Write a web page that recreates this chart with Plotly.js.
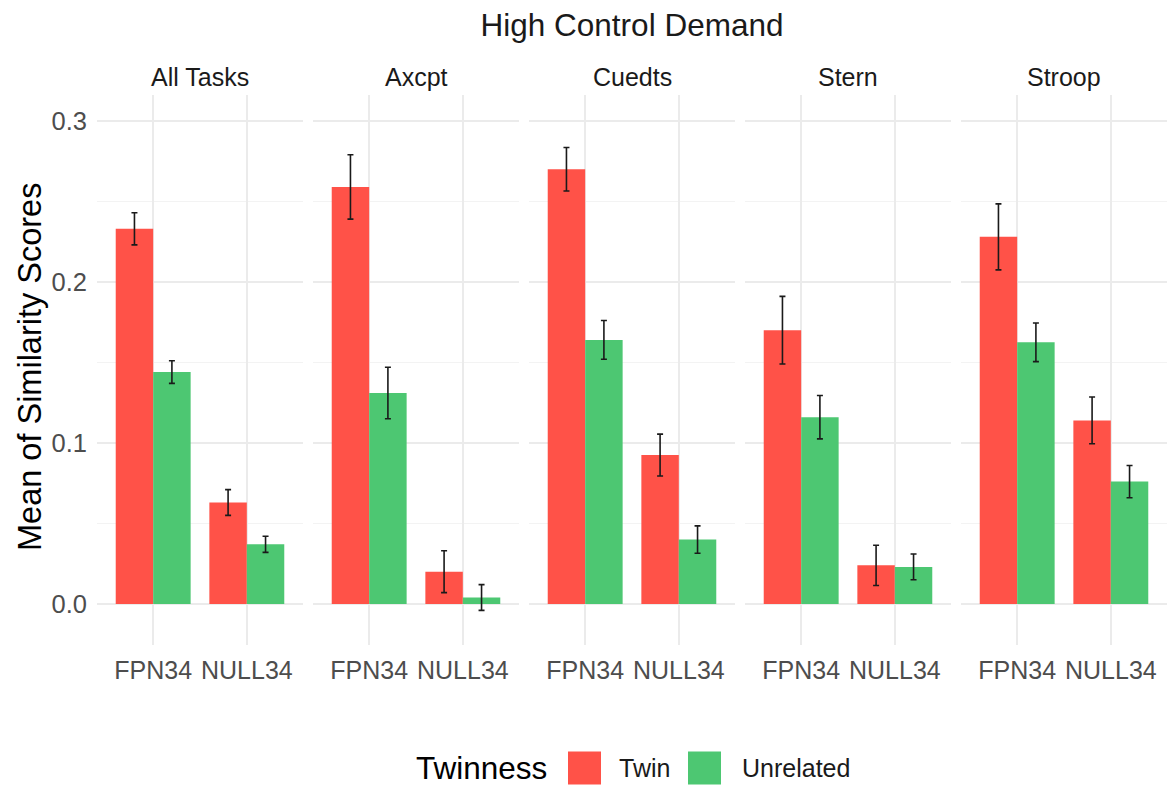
<!DOCTYPE html>
<html>
<head>
<meta charset="utf-8">
<script src="https://cdn.plot.ly/plotly-3.0.1.min.js"></script>
<style>
  html, body { margin: 0; padding: 0; background: #ffffff; }
  #chart { width: 1172px; height: 787px; }
</style>
</head>
<body>
<div id="chart"></div>
<script>
// Facets (tasks) and the networks compared within each facet
const tasks = ['All Tasks', 'Axcpt', 'Cuedts', 'Stern', 'Stroop'];
const networks = ['FPN34', 'NULL34'];

// Mean similarity scores, one entry per task
const twinFPN     = [0.233, 0.259, 0.270, 0.170, 0.228];
const twinNULL    = [0.063, 0.020, 0.0925, 0.024, 0.114];
const unrelFPN    = [0.144, 0.131, 0.164, 0.116, 0.1625];
const unrelNULL   = [0.037, 0.004, 0.040, 0.023, 0.076];

// Standard errors, one entry per task
const twinFPNse   = [0.010, 0.020, 0.0135, 0.021, 0.0205];
const twinNULLse  = [0.008, 0.013, 0.013, 0.0125, 0.0145];
const unrelFPNse  = [0.007, 0.016, 0.012, 0.0135, 0.012];
const unrelNULLse = [0.005, 0.008, 0.0085, 0.008, 0.010];

const groups = ['Twin', 'Unrelated'];
const colors = { Twin: '#FF5248', Unrelated: '#4DC772' };

const FONT = 'Liberation Sans, Arial, Helvetica, sans-serif';
const W = 1172, H = 787;
const mL = 97, mR = 5, mT = 95, mB = 142;
const plotW = W - mL - mR;          // 1070
const plotH = H - mT - mB;          // 550
const panelW = 206, panelGap = 10;

const traces = [];
const layout = {
  width: W, height: H,
  margin: { l: mL, r: mR, t: mT, b: mB, pad: 0 },
  paper_bgcolor: '#ffffff',
  plot_bgcolor: '#ffffff',
  showlegend: false,
  barmode: 'group',
  bargap: 0.2,
  bargroupgap: 0,
  font: { family: FONT, color: '#1a1a1a' },
  title: {
    text: 'High Control Demand',
    x: 0.5, xref: 'paper', xanchor: 'center',
    y: 1 - 25 / H, yref: 'container', yanchor: 'middle',
    font: { family: FONT, size: 31.5, color: '#1a1a1a' }
  },
  annotations: [],
  shapes: []
};

// y axis shared by all facets
layout.yaxis = {
  domain: [0, 1],
  range: [-0.0255, 0.3161],
  tickvals: [0, 0.1, 0.2, 0.3],
  ticktext: ['0.0', '0.1', '0.2', '0.3'],
  showgrid: true, gridcolor: '#EBEBEB', gridwidth: 1.6,
  minor: { tickvals: [0.05, 0.15, 0.25], showgrid: true, gridcolor: '#F3F3F3', gridwidth: 1.2 },
  zeroline: false, showline: false, ticks: '',
  ticklabelstandoff: 9,
  tickfont: { family: FONT, size: 25.5, color: '#4D4D4D' },
  fixedrange: true
};

tasks.forEach((task, i) => {
  const ax = i === 0 ? '' : String(i + 1);
  const x0 = (i * (panelW + panelGap)) / plotW;
  const x1 = (i * (panelW + panelGap) + panelW) / plotW;

  layout['xaxis' + ax] = {
    domain: [x0, x1],
    anchor: 'y',
    type: 'category',
    categoryorder: 'array', categoryarray: networks,
    range: [-0.6, 1.6],
    showgrid: true, gridcolor: '#EBEBEB', gridwidth: 1.6,
    zeroline: false, showline: false, ticks: '',
    ticklabelstandoff: 8,
    tickfont: { family: FONT, size: 25, color: '#4D4D4D' },
    fixedrange: true
  };

  const series = {
    Twin: { y: [twinFPN[i], twinNULL[i]], e: [twinFPNse[i], twinNULLse[i]] },
    Unrelated: { y: [unrelFPN[i], unrelNULL[i]], e: [unrelFPNse[i], unrelNULLse[i]] }
  };

  groups.forEach(g => {
    traces.push({
      type: 'bar',
      name: g,
      x: networks,
      y: series[g].y,
      xaxis: 'x' + ax,
      yaxis: 'y',
      offsetgroup: g,
      marker: { color: colors[g], line: { width: 0 } },
      error_y: { type: 'data', array: series[g].e, visible: true, color: '#1a1a1a', thickness: 1.6, width: 3 },
      hoverinfo: 'skip'
    });
  });

  // facet strip label
  layout.annotations.push({
    text: task,
    xref: 'paper', yref: 'paper',
    x: (x0 + x1) / 2, y: 1 + (mT - 77) / plotH,
    xanchor: 'center', yanchor: 'middle',
    showarrow: false,
    font: { family: FONT, size: 25, color: '#1a1a1a' }
  });
});

// y axis title
layout.annotations.push({
  text: 'Mean of Similarity Scores',
  xref: 'paper', yref: 'paper',
  x: (30 - mL) / plotW, y: (H - mB - 367) / plotH,
  xanchor: 'center', yanchor: 'middle',
  textangle: -90,
  showarrow: false,
  font: { family: FONT, size: 32.5, color: '#000000' }
});

// legend drawn below the panels
const px = v => (v - mL) / plotW;
const py = v => (H - mB - v) / plotH;
const legendY = 768;
layout.annotations.push({
  text: 'Twinness', xref: 'paper', yref: 'paper',
  x: px(414), y: py(legendY), xanchor: 'left', yanchor: 'middle',
  showarrow: false, font: { family: FONT, size: 31.5, color: '#000000' }
});
const keys = [
  { g: 'Twin', box: 568, label: 617 },
  { g: 'Unrelated', box: 688, label: 740 }
];
keys.forEach(k => {
  layout.shapes.push({
    type: 'rect', xref: 'paper', yref: 'paper',
    x0: px(k.box), x1: px(k.box + 33),
    y0: py(legendY - 16.5), y1: py(legendY + 16.5),
    fillcolor: colors[k.g], line: { width: 0 }
  });
  layout.annotations.push({
    text: k.g, xref: 'paper', yref: 'paper',
    x: px(k.label), y: py(legendY), xanchor: 'left', yanchor: 'middle',
    showarrow: false, font: { family: FONT, size: 25, color: '#1a1a1a' }
  });
});

Plotly.newPlot('chart', traces, layout, { displayModeBar: false, staticPlot: true });
</script>
</body>
</html>
